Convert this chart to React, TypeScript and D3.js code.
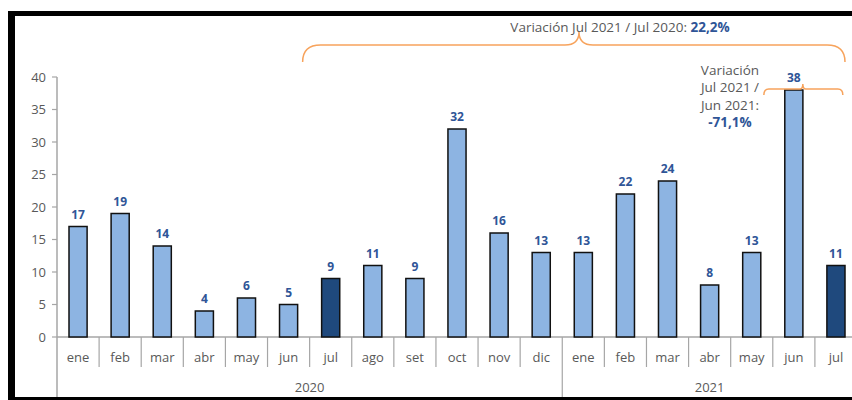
import React from "react";
import * as d3 from "d3";

const years = ["2020", "2021"];
const months2020 = ["ene", "feb", "mar", "abr", "may", "jun", "jul", "ago", "set", "oct", "nov", "dic"];
const months2021 = ["ene", "feb", "mar", "abr", "may", "jun", "jul"];
const values2020 = [17, 19, 14, 4, 6, 5, 9, 11, 9, 32, 16, 13];
const values2021 = [13, 22, 24, 8, 13, 38, 11];
const highlighted = ["2020-jul", "2021-jul"];
const yTicks = [0, 5, 10, 15, 20, 25, 30, 35, 40];

type Row = { key: string; year: string; month: string; value: number };
const rows: Row[] = [
  ...months2020.map((m, i) => ({ key: `2020-${m}`, year: "2020", month: m, value: values2020[i] })),
  ...months2021.map((m, i) => ({ key: `2021-${m}`, year: "2021", month: m, value: values2021[i] })),
];

const W = 852;
const H = 400;
const FONT = "'Open Sans', 'Noto Sans', sans-serif";
const LIGHT = "#8DB4E2";
const DARK = "#1F497D";
const LABEL = "#2F5597";
const AXIS = "#A6A6A6";
const TEXT = "#595959";
const ORANGE = "#F7A35C";

export default function App() {
  const x = d3
    .scaleBand<string>()
    .domain(rows.map((r) => r.key))
    .range([57, 857])
    .paddingInner(0.57)
    .paddingOuter(0.285);
  const y = d3.scaleLinear().domain([0, 40]).range([337, 77]);
  const step = x.step();
  const bw = x.bandwidth();
  const bandStart = (k: string) => (x(k) as number) - (step * 0.57) / 2;
  const center = (k: string) => (x(k) as number) + bw / 2;

  const axisBottom = y(0);
  const monthSepBottom = 367;
  const yearSepBottom = 397;

  const yearGroups = years.map((yr) => {
    const ks = rows.filter((r) => r.year === yr).map((r) => r.key);
    const start = bandStart(ks[0]);
    const end = bandStart(ks[ks.length - 1]) + step;
    return { yr, start, end };
  });

  // big brace: from jul 2020 to jul 2021
  const bx0 = bandStart("2020-jul") - 7;
  const bx1 = bandStart("2021-jul") + step - 12;
  const bPeak = 579;
  const byTop = 45;
  const byEnd = 62;
  const byPeak = 32;
  const bigBrace = `M${bx0},${byEnd} Q${bx0},${byTop} ${bx0 + 18},${byTop} L${bPeak - 14},${byTop} Q${bPeak},${byTop} ${bPeak},${byPeak} Q${bPeak},${byTop} ${bPeak + 14},${byTop} L${bx1 - 18},${byTop} Q${bx1},${byTop} ${bx1},${byEnd}`;

  // small brace near jun 2021
  const sx0 = center("2021-jun") - 30;
  const sx1 = center("2021-jun") + 49;
  const sPeak = center("2021-jun") + 9;
  const syTop = y(38) - 1;
  const sEnd = syTop + 6;
  const sPeakY = syTop - 5;
  const smallBrace = `M${sx0},${sEnd} Q${sx0},${syTop} ${sx0 + 5},${syTop} L${sPeak - 3},${syTop} Q${sPeak},${syTop} ${sPeak},${sPeakY} Q${sPeak},${syTop} ${sPeak + 3},${syTop} L${sx1 - 5},${syTop} Q${sx1},${syTop} ${sx1},${sEnd}`;

  return (
    <svg width={W} height={H} style={{ position: "absolute", left: 0, top: 0, background: "#fff" }} fontFamily={FONT}>
      <rect x={0} y={0} width={W} height={H} fill="#fff" />
      {/* frame */}
      <rect x={8} y={11} width={W - 8} height={5} fill="#000" />
      <rect x={8} y={11} width={7} height={H - 11} fill="#000" />
      <rect x={8} y={397} width={W - 8} height={3} fill="#000" />

      {/* y axis */}
      <line x1={57} x2={57} y1={y(40)} y2={yearSepBottom} stroke={AXIS} strokeWidth={1.5} />
      {yTicks.map((t) => (
        <g key={t}>
          <line x1={52} x2={57} y1={y(t)} y2={y(t)} stroke={AXIS} strokeWidth={1.2} />
          <text x={46} y={y(t)} dy="0.35em" textAnchor="end" fontSize={13} fill={TEXT}>
            {t}
          </text>
        </g>
      ))}

      {/* x axis line */}
      <line x1={57} x2={W} y1={axisBottom} y2={axisBottom} stroke={AXIS} strokeWidth={1.5} />

      {/* month separators */}
      {rows.map((r, i) =>
        i === 0 ? null : (
          <line
            key={"sep" + r.key}
            x1={bandStart(r.key)}
            x2={bandStart(r.key)}
            y1={axisBottom}
            y2={r.month === "ene" ? yearSepBottom : monthSepBottom}
            stroke={AXIS}
            strokeWidth={1.2}
          />
        )
      )}

      {/* bars */}
      {rows.map((r) => (
        <rect
          key={r.key}
          x={x(r.key)}
          y={y(r.value)}
          width={bw}
          height={y(0) - y(r.value)}
          fill={highlighted.includes(r.key) ? DARK : LIGHT}
          stroke="#111"
          strokeWidth={1.5}
        />
      ))}

      {/* value labels */}
      {rows.map((r) => (
        <text
          key={"v" + r.key}
          x={center(r.key)}
          y={y(r.value) - 8}
          textAnchor="middle"
          fontSize={12}
          fontWeight="bold"
          fill={LABEL}
        >
          {r.value}
        </text>
      ))}

      {/* month labels */}
      {rows.map((r) => (
        <text key={"m" + r.key} x={bandStart(r.key) + step / 2} y={362} textAnchor="middle" fontSize={13} fill={TEXT}>
          {r.month}
        </text>
      ))}

      {/* year labels */}
      {yearGroups.map((g) => (
        <text key={g.yr} x={(g.start + g.end) / 2} y={392} textAnchor="middle" fontSize={13} fill={TEXT}>
          {g.yr}
        </text>
      ))}

      {/* annotations */}
      <path d={bigBrace} fill="none" stroke={ORANGE} strokeWidth={1.5} />
      <text x={620} y={32} textAnchor="middle" fontSize={13.5} fill={TEXT}>
        Variación Jul 2021 / Jul 2020: <tspan fontWeight="bold" fill={LABEL}>22,2%</tspan>
      </text>

      <path d={smallBrace} fill="none" stroke={ORANGE} strokeWidth={1.5} />
      <g fontSize={13.5} fill={TEXT} textAnchor="middle">
        <text x={730} y={75}>Variación</text>
        <text x={730} y={92}>Jul 2021 /</text>
        <text x={730} y={110}>Jun 2021:</text>
        <text x={730} y={127} fontWeight="bold" fill={LABEL}>
          -71,1%
        </text>
      </g>
    </svg>
  );
}
